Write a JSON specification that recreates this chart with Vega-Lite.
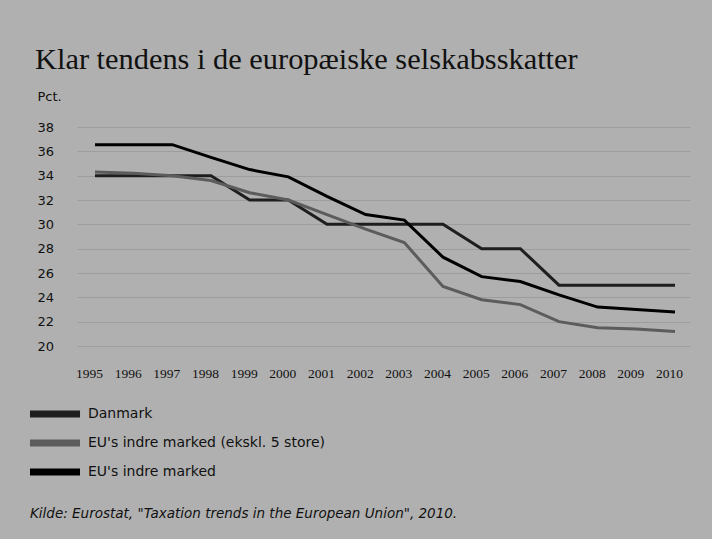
{
  "$schema": "https://vega.github.io/schema/vega-lite/v6.json",
  "width": 613,
  "height": 219,
  "autosize": {"type": "none"},
  "padding": {"left": 77, "top": 127, "right": 22, "bottom": 193},
  "background": "#b0b0b0",
  "title": {
    "text": "Klar tendens i de europæiske selskabsskatter",
    "anchor": "start",
    "frame": "group",
    "font": "Liberation Serif",
    "fontSize": 30.4,
    "fontWeight": "normal",
    "color": "#111111",
    "dx": -42,
    "offset": -9,
    "baseline": "alphabetic"
  },
  "config": {"view": {"stroke": null}, "font": "DejaVu Sans"},
  "data": {
    "values": [
      {"year": 1995, "series": "Danmark", "value": 34},
      {"year": 1996, "series": "Danmark", "value": 34},
      {"year": 1997, "series": "Danmark", "value": 34},
      {"year": 1998, "series": "Danmark", "value": 34},
      {"year": 1999, "series": "Danmark", "value": 32},
      {"year": 2000, "series": "Danmark", "value": 32},
      {"year": 2001, "series": "Danmark", "value": 30},
      {"year": 2002, "series": "Danmark", "value": 30},
      {"year": 2003, "series": "Danmark", "value": 30},
      {"year": 2004, "series": "Danmark", "value": 30},
      {"year": 2005, "series": "Danmark", "value": 28},
      {"year": 2006, "series": "Danmark", "value": 28},
      {"year": 2007, "series": "Danmark", "value": 25},
      {"year": 2008, "series": "Danmark", "value": 25},
      {"year": 2009, "series": "Danmark", "value": 25},
      {"year": 2010, "series": "Danmark", "value": 25},
      {"year": 1995, "series": "EU's indre marked (ekskl. 5 store)", "value": 34.3},
      {"year": 1996, "series": "EU's indre marked (ekskl. 5 store)", "value": 34.2},
      {"year": 1997, "series": "EU's indre marked (ekskl. 5 store)", "value": 34.0},
      {"year": 1998, "series": "EU's indre marked (ekskl. 5 store)", "value": 33.6},
      {"year": 1999, "series": "EU's indre marked (ekskl. 5 store)", "value": 32.6},
      {"year": 2000, "series": "EU's indre marked (ekskl. 5 store)", "value": 32.0},
      {"year": 2001, "series": "EU's indre marked (ekskl. 5 store)", "value": 30.8},
      {"year": 2002, "series": "EU's indre marked (ekskl. 5 store)", "value": 29.6},
      {"year": 2003, "series": "EU's indre marked (ekskl. 5 store)", "value": 28.5},
      {"year": 2004, "series": "EU's indre marked (ekskl. 5 store)", "value": 24.9},
      {"year": 2005, "series": "EU's indre marked (ekskl. 5 store)", "value": 23.8},
      {"year": 2006, "series": "EU's indre marked (ekskl. 5 store)", "value": 23.4},
      {"year": 2007, "series": "EU's indre marked (ekskl. 5 store)", "value": 22.0},
      {"year": 2008, "series": "EU's indre marked (ekskl. 5 store)", "value": 21.5},
      {"year": 2009, "series": "EU's indre marked (ekskl. 5 store)", "value": 21.4},
      {"year": 2010, "series": "EU's indre marked (ekskl. 5 store)", "value": 21.2},
      {"year": 1995, "series": "EU's indre marked", "value": 36.55},
      {"year": 1996, "series": "EU's indre marked", "value": 36.55},
      {"year": 1997, "series": "EU's indre marked", "value": 36.55},
      {"year": 1998, "series": "EU's indre marked", "value": 35.5},
      {"year": 1999, "series": "EU's indre marked", "value": 34.5},
      {"year": 2000, "series": "EU's indre marked", "value": 33.9},
      {"year": 2001, "series": "EU's indre marked", "value": 32.3},
      {"year": 2002, "series": "EU's indre marked", "value": 30.8},
      {"year": 2003, "series": "EU's indre marked", "value": 30.35},
      {"year": 2004, "series": "EU's indre marked", "value": 27.3},
      {"year": 2005, "series": "EU's indre marked", "value": 25.7},
      {"year": 2006, "series": "EU's indre marked", "value": 25.3},
      {"year": 2007, "series": "EU's indre marked", "value": 24.2},
      {"year": 2008, "series": "EU's indre marked", "value": 23.2},
      {"year": 2009, "series": "EU's indre marked", "value": 23.0},
      {"year": 2010, "series": "EU's indre marked", "value": 22.8}
    ]
  },
  "mark": {"type": "line", "strokeWidth": 3},
  "encoding": {
    "x": {
      "field": "year",
      "type": "quantitative",
      "scale": {"domain": [1994.535, 2010.388], "nice": false, "zero": false},
      "axis": {
        "values": [1995, 1996, 1997, 1998, 1999, 2000, 2001, 2002, 2003, 2004, 2005, 2006, 2007, 2008, 2009, 2010],
        "format": "d",
        "title": null,
        "grid": false,
        "domain": false,
        "ticks": false,
        "tickSize": 0,
        "labelFont": "Liberation Serif",
        "labelFontSize": 13.5,
        "labelColor": "#111111",
        "labelBaseline": "middle",
        "labelPadding": 27,
        "labelOffset": -6,
        "labelFlush": false,
        "labelOverlap": false
      }
    },
    "y": {
      "field": "value",
      "type": "quantitative",
      "scale": {"domain": [20, 38], "nice": false, "zero": false},
      "axis": {
        "values": [20, 22, 24, 26, 28, 30, 32, 34, 36, 38],
        "title": "Pct.",
        "titleAngle": 0,
        "titleAlign": "left",
        "titleBaseline": "middle",
        "titleX": -40,
        "titleY": -31,
        "titleFont": "DejaVu Sans",
        "titleFontSize": 13,
        "titleFontWeight": "normal",
        "titleColor": "#111111",
        "labelAlign": "left",
        "labelBaseline": "middle",
        "labelPadding": 40,
        "labelFont": "DejaVu Sans",
        "labelFontSize": 13,
        "labelColor": "#111111",
        "ticks": false,
        "tickSize": 0,
        "domain": false,
        "grid": true,
        "gridColor": "#8a8a8a",
        "gridOpacity": 0.5,
        "gridWidth": 1
      }
    },
    "color": {
      "field": "series",
      "type": "nominal",
      "scale": {
        "domain": ["Danmark", "EU's indre marked (ekskl. 5 store)", "EU's indre marked"],
        "range": ["#1e1e1e", "#5c5c5c", "#000000"]
      },
      "legend": {
        "orient": "none",
        "legendX": -47,
        "legendY": 275,
        "direction": "vertical",
        "symbolType": "M-1.44,0H4.56",
        "symbolSize": 278,
        "symbolStrokeWidth": 7,
        "labelFont": "DejaVu Sans",
        "labelFontSize": 14,
        "labelColor": "#111111",
        "labelOffset": 34,
        "labelLimit": 600,
        "rowPadding": 1,
        "title": "Kilde: Eurostat, \"Taxation trends in the European Union\", 2010.",
        "titleOrient": "bottom",
        "titleFont": "DejaVu Sans",
        "titleFontStyle": "italic",
        "titleFontWeight": "normal",
        "titleFontSize": 13.5,
        "titleColor": "#111111",
        "titleLimit": 700,
        "titlePadding": 21
      }
    }
  }
}
